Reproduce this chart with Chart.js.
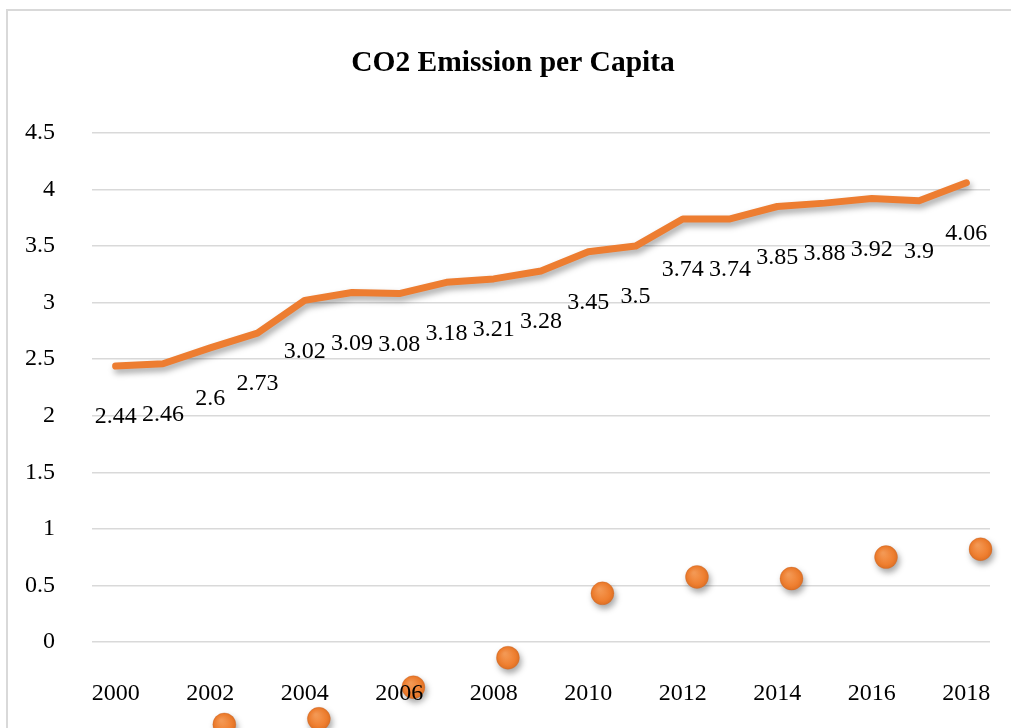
<!DOCTYPE html>
<html>
<head>
<meta charset="utf-8">
<title>CO2 Emission per Capita</title>
<script src="https://cdn.jsdelivr.net/npm/chart.js@4/dist/chart.umd.min.js"></script>
<style>
  html, body { margin: 0; padding: 0; background: #fff; overflow: hidden; }
  #frame {
    position: absolute; left: 6px; top: 9px;
    width: 1200px; height: 1000px;
    border: 2px solid #d9d9d9;
  }
  #co2chart { position: absolute; left: 0; top: 0; }
</style>
</head>
<body>
<div id="frame"></div>
<canvas id="co2chart" width="1011" height="770"></canvas>
<script>
'use strict';
// yearly emission per capita (line)
var years = [2000, 2001, 2002, 2003, 2004, 2005, 2006, 2007, 2008, 2009,
  2010, 2011, 2012, 2013, 2014, 2015, 2016, 2017, 2018];
var emission = [2.44, 2.46, 2.6, 2.73, 3.02, 3.09, 3.08, 3.18, 3.21, 3.28,
  3.45, 3.5, 3.74, 3.74, 3.85, 3.88, 3.92, 3.9, 4.06];
// second series, drawn as round markers only
var dotYears = [2002.3, 2004.3, 2006.3, 2008.3, 2010.3, 2012.3, 2014.3, 2016.3, 2018.3];
var dotValues = [-0.73, -0.68, -0.4, -0.14, 0.43, 0.575, 0.56, 0.75, 0.82];
// axis labels
var xTickYears = [2000, 2002, 2004, 2006, 2008, 2010, 2012, 2014, 2016, 2018];

var orange = '#ED7D31';
var serif = "'Liberation Serif', 'Times New Roman', serif";

var linePoints = [];
for (var i = 0; i < years.length; i++) {
  linePoints.push({ x: years[i], y: emission[i] });
}
var dotPoints = [];
for (var j = 0; j < dotYears.length; j++) {
  dotPoints.push({ x: dotYears[j], y: dotValues[j] });
}

// soft drop shadow under the line and the markers
var shadowPlugin = {
  id: 'shadow',
  beforeDatasetDraw: function(chart) {
    var ctx = chart.ctx;
    ctx.save();
    ctx.shadowColor = 'rgba(0,0,0,0.35)';
    ctx.shadowBlur = 6;
    ctx.shadowOffsetX = 2;
    ctx.shadowOffsetY = 4;
  },
  afterDatasetDraw: function(chart) {
    chart.ctx.restore();
  }
};

// value labels under each point of the line
var valueLabels = {
  id: 'valueLabels',
  afterDatasetsDraw: function(chart) {
    var ctx = chart.ctx;
    var meta = chart.getDatasetMeta(0);
    ctx.save();
    ctx.font = '24px ' + serif;
    ctx.fillStyle = '#000';
    ctx.textAlign = 'center';
    ctx.textBaseline = 'middle';
    meta.data.forEach(function(pt, k) {
      ctx.fillText(String(emission[k]), pt.x, pt.y + 51);
    });
    ctx.restore();
  }
};

// title sits a bit right of the canvas centre
var titleShift = {
  id: 'titleShift',
  afterLayout: function(chart) {
    if (chart.titleBlock) chart.titleBlock.left += 36;
  }
};

// shaded fill for the round markers
function dotFill(context) {
  var chart = context.chart;
  if (!chart.scales.x || !context.raw) return orange;
  var px = chart.scales.x.getPixelForValue(context.raw.x);
  var py = chart.scales.y.getPixelForValue(context.raw.y);
  if (!isFinite(px) || !isFinite(py)) return orange;
  var g = chart.ctx.createRadialGradient(px - 3, py - 4, 1, px, py, 12);
  g.addColorStop(0, '#F59A55');
  g.addColorStop(0.7, '#EF7F30');
  g.addColorStop(1, '#DD6F24');
  return g;
}

var ctx = document.getElementById('co2chart').getContext('2d');
var chart = new Chart(ctx, {
  type: 'line',
  data: {
    datasets: [
      {
        data: linePoints,
        borderColor: orange,
        borderWidth: 7,
        borderCapStyle: 'round',
        borderJoinStyle: 'round',
        pointRadius: 0,
        tension: 0,
        fill: false,
        clip: false
      },
      {
        data: dotPoints,
        showLine: false,
        pointRadius: 11.5,
        pointBackgroundColor: dotFill,
        pointBorderColor: 'rgba(200,100,40,0.6)',
        pointBorderWidth: 0.5,
        clip: false
      }
    ]
  },
  options: {
    responsive: false,
    animation: false,
    events: [],
    layout: { padding: { top: 9, right: 21, bottom: 15, left: 0 } },
    plugins: {
      legend: { display: false },
      tooltip: { enabled: false },
      title: {
        display: true,
        text: 'CO2 Emission per Capita',
        color: '#000',
        font: { family: serif, size: 29.5, weight: 'bold' },
        padding: { top: 37, bottom: 51.6 }
      }
    },
    scales: {
      x: {
        type: 'linear',
        min: 1999.5,
        max: 2018.5,
        position: { y: 0 },
        z: 1,
        // invisible tick marks only push the labels down from the zero line
        grid: {
          display: true,
          drawOnChartArea: false,
          drawTicks: true,
          tickLength: 37,
          tickColor: 'rgba(0,0,0,0)'
        },
        border: { display: false },
        afterBuildTicks: function(scale) {
          scale.ticks = xTickYears.map(function(v) { return { value: v }; });
        },
        ticks: {
          z: 1,
          autoSkip: false,
          maxRotation: 0,
          padding: 0,
          color: '#000',
          font: { family: serif, size: 24 },
          callback: function(v) { return String(v); }
        }
      },
      y: {
        min: -1,
        max: 4.5,
        afterFit: function(scale) { scale.width = 92; },
        grid: {
          drawTicks: true,
          tickLength: 37,
          tickColor: 'rgba(0,0,0,0)',
          lineWidth: 1.5,
          color: function(c) { return c.tick && c.tick.value < 0 ? 'rgba(0,0,0,0)' : '#d9d9d9'; }
        },
        border: { display: false },
        ticks: {
          stepSize: 0.5,
          padding: 0,
          color: '#000',
          font: { family: serif, size: 24 },
          callback: function(v) { return v < 0 ? '' : String(v); }
        }
      }
    }
  },
  plugins: [shadowPlugin, valueLabels, titleShift]
});
</script>
</body>
</html>
